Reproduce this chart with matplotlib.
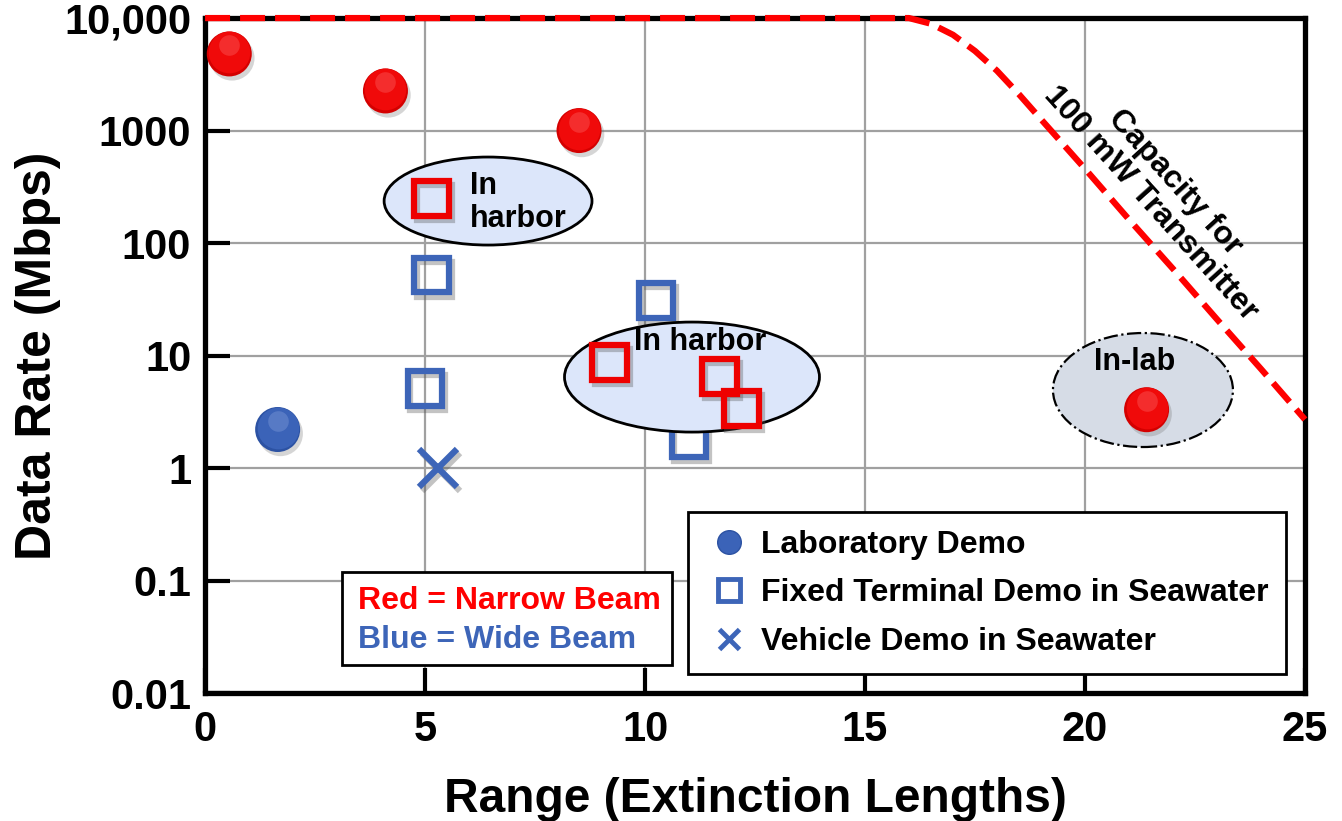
import numpy as np
import matplotlib
matplotlib.use("Agg")
import matplotlib.pyplot as plt
import matplotlib.patheffects as pe
from matplotlib.lines import Line2D
from matplotlib.patches import Ellipse, Rectangle
from matplotlib.transforms import offset_copy

plt.rcParams['font.family'] = ['Liberation Sans', 'DejaVu Sans']
plt.rcParams['font.weight'] = 'bold'
plt.rcParams['axes.labelweight'] = 'bold'

# measured demos: range in extinction lengths, rate in Mbps
lab_red_x = [0.55, 4.1, 8.5, 21.4]
lab_red_y = [4800, 2250, 1000, 3.3]
lab_blue_x = [1.65]
lab_blue_y = [2.2]
fixed_red_x = [5.15, 9.2, 11.7, 12.2]
fixed_red_y = [250, 8.7, 6.5, 3.4]
fixed_blue_x = [5.15, 5.0, 10.25, 11.0]
fixed_blue_y = [52, 5.1, 31, 1.8]
vehicle_x = [5.3]
vehicle_y = [1.0]

# capacity of a 100 mW transmitter
cap_x = [0, 16, 16.5, 17, 17.5, 18, 18.5, 19, 20, 21, 22, 23, 24, 25]
cap_y = [10000, 10000, 8900, 7100, 5100, 3400, 2100, 1260, 457, 162, 59, 21, 7.6, 2.7]

y_ticks = [0.01, 0.1, 1, 10, 100, 1000, 10000]
y_labels = ['0.01', '0.1', '1', '10', '100', '1000', '10,000']
x_ticks = [0, 5, 10, 15, 20, 25]

legend_labels = ['Laboratory Demo', 'Fixed Terminal Demo in Seawater', 'Vehicle Demo in Seawater']

RED = '#ee0000'
BLUE = '#3d65b8'

fig = plt.figure(figsize=(13.42, 8.21), dpi=100)
ax = fig.add_axes([0.1528, 0.1559, 0.8196, 0.8221])
ax.set_yscale('log')
ax.set_xlim(0, 25)
ax.set_ylim(0.01, 10000)
ax.set_xticks(x_ticks)
ax.set_xticklabels([str(t) for t in x_ticks])
ax.set_yticks(y_ticks)
ax.set_yticklabels(y_labels)
ax.minorticks_off()
ax.tick_params(axis='both', direction='in', length=18, width=3, labelsize=30)
ax.tick_params(axis='y', pad=10)
ax.tick_params(axis='x', pad=12)
ax.grid(True, color='#a0a0a0', lw=1.6, zorder=0)
ax.set_axisbelow(True)
for s in ax.spines.values():
    s.set_linewidth(3.8)

ax.set_xlabel('Range (Extinction Lengths)', fontsize=34.5, labelpad=20)
ax.set_ylabel('Data Rate (Mbps)', fontsize=36, labelpad=2)

# annotation ellipses (axes coords)
ell_kw = dict(transform=ax.transAxes, zorder=3)
ax.add_patch(Ellipse((0.2573, 0.7289), 0.189, 0.1304, fc='#dce6fa', ec='black', lw=2, **ell_kw))
ax.add_patch(Ellipse((0.4427, 0.4681), 0.2318, 0.163, fc='#dce6fa', ec='black', lw=2, **ell_kw))
ax.add_patch(Ellipse((0.8527, 0.4489), 0.1636, 0.1689, fc='#d6dce6', ec='black', lw=1.6,
                     ls='-.', **ell_kw))
ax.text(0.241, 0.727, 'In\nharbor', transform=ax.transAxes, fontsize=22, ha='left', va='center',
        linespacing=1.15, zorder=6)
ax.text(0.450, 0.52, 'In harbor', transform=ax.transAxes, fontsize=22, ha='center', va='center', zorder=6)
ax.text(0.845, 0.49, 'In-lab', transform=ax.transAxes, fontsize=22, ha='center', va='center', zorder=6)

# capacity curve
ax.plot(cap_x, cap_y, color='#ff0000', lw=4.5, ls=(0, (4, 1.6)), clip_on=False, zorder=8)
ax.text(0.871, 0.741, 'Capacity for\n100 mW Transmitter', transform=ax.transAxes, fontsize=23,
        rotation=-48, ha='center', va='center', rotation_mode='anchor', multialignment='center',
        linespacing=1.1, zorder=6)


def sphere(xs, ys, dark, mid, light, z):
    shadow = [pe.SimplePatchShadow(offset=(2, -3), shadow_rgbFace='#777777', alpha=0.3), pe.Normal()]
    ax.scatter(xs, ys, s=1050, color=dark, lw=0, zorder=z, path_effects=shadow)
    up = offset_copy(ax.transData, fig=fig, x=0, y=2, units='dots')
    ax.scatter(xs, ys, s=900, color=mid, lw=0, zorder=z + 0.1, transform=up)
    top = offset_copy(ax.transData, fig=fig, x=0, y=9, units='dots')
    ax.scatter(xs, ys, s=220, color=light, lw=0, alpha=0.3, zorder=z + 0.2, transform=top)


sq_shadow = [pe.SimpleLineShadow(offset=(2, -3), shadow_color='#555555', alpha=0.35), pe.Normal()]

ax.plot(fixed_blue_x, fixed_blue_y, ls='none', marker='s', ms=25, mfc='none', mec=BLUE, mew=4.5,
        zorder=2.5, path_effects=sq_shadow)
ax.plot(vehicle_x, vehicle_y, ls='none', marker='x', ms=27, mec=BLUE, mew=4.5, zorder=4,
        path_effects=sq_shadow)
ax.plot(fixed_red_x, fixed_red_y, ls='none', marker='s', ms=25, mfc='none', mec=RED, mew=4.5,
        zorder=5, path_effects=sq_shadow)
sphere(lab_red_x, lab_red_y, '#d40000', '#f00a0a', '#ff8080', 5)
sphere(lab_blue_x, lab_blue_y, '#2c52a3', '#3b63b8', '#9ab2e6', 5)

# colour key box
ax.add_patch(Rectangle((0.1245, 0.0415), 0.30, 0.1375, transform=ax.transAxes, fc='white',
                       ec='black', lw=2, zorder=7))
ax.text(0.139, 0.136, 'Red = Narrow Beam', transform=ax.transAxes, color='#ff0000', fontsize=23,
        ha='left', va='center', zorder=8)
ax.text(0.139, 0.0785, 'Blue = Wide Beam', transform=ax.transAxes, color=BLUE, fontsize=23,
        ha='left', va='center', zorder=8)

handles = [
    Line2D([], [], ls='none', marker='o', ms=17, color='#3b63b8', mec='#2c52a3'),
    Line2D([], [], ls='none', marker='s', ms=16, mfc='none', mec=BLUE, mew=3.5),
    Line2D([], [], ls='none', marker='x', ms=15, mec=BLUE, mew=3.5),
]
leg = ax.legend(handles, legend_labels, loc='upper left', bbox_to_anchor=(0.439, 0.268),
                borderaxespad=0, fontsize=23, frameon=True, fancybox=False, framealpha=1,
                edgecolor='black', handlelength=1.5, handletextpad=0.25, labelspacing=0.58,
                borderpad=0.55)
leg.get_frame().set_linewidth(2)
leg.set_zorder(9)

fig.savefig('out.png', dpi=100)
